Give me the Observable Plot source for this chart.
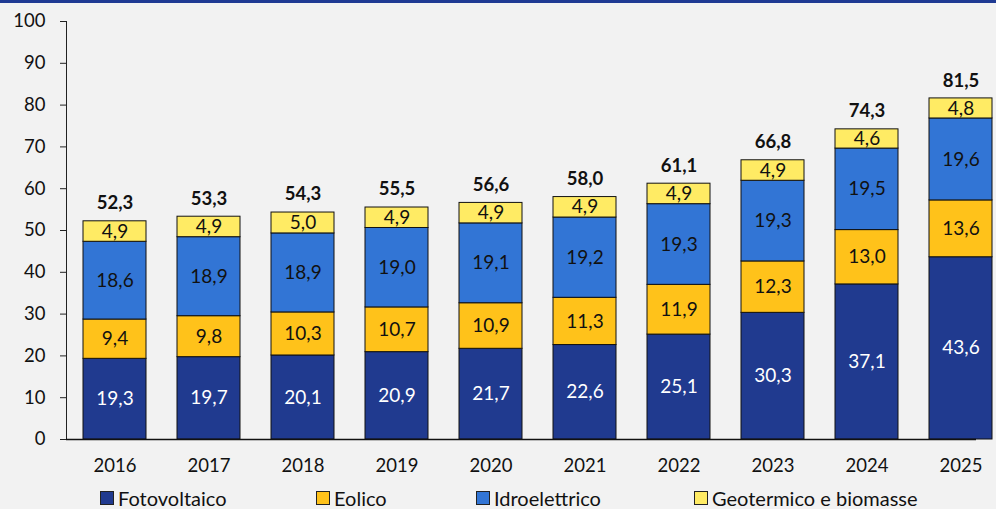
<!DOCTYPE html>
<html>
<head>
<meta charset="utf-8">
<script src="https://cdn.jsdelivr.net/npm/d3@7"></script>
<script src="https://cdn.jsdelivr.net/npm/@observablehq/plot@0.6"></script>
<style>
  html, body { margin: 0; padding: 0; background: #f2f2f2; overflow: hidden; }
  #wrap { position: relative; width: 996px; height: 509px; background: #f2f2f2; font-family: Lato, sans-serif; overflow: hidden; }
  #topbar { position: absolute; left: 0; top: 0; width: 996px; height: 3px; background: #1f3a93; }
  #chart { position: absolute; left: 0; top: 0; }
  .leg { position: absolute; top: 488px; height: 20px; line-height: 20px; display: flex; align-items: center; font-size: 20px; color: #111; white-space: nowrap; }
  .sw { width: 12px; height: 12px; border: 1px solid #222; margin-right: 4px; box-sizing: content-box; }
</style>
</head>
<body>
<div id="wrap">
  <div id="chart"></div>
  <div id="topbar"></div>
  <div id="legend"></div>
</div>
<script>
const years = ["2016","2017","2018","2019","2020","2021","2022","2023","2024","2025"];
const seriesNames = ["Fotovoltaico","Eolico","Idroelettrico","Geotermico e biomasse"];
const fotovoltaico = [19.3,19.7,20.1,20.9,21.7,22.6,25.1,30.3,37.1,43.6];
const eolico = [9.4,9.8,10.3,10.7,10.9,11.3,11.9,12.3,13.0,13.6];
const idroelettrico = [18.6,18.9,18.9,19.0,19.1,19.2,19.3,19.3,19.5,19.6];
const geotermico = [4.9,4.9,5.0,4.9,4.9,4.9,4.9,4.9,4.6,4.8];
const totals = [52.3,53.3,54.3,55.5,56.6,58.0,61.1,66.8,74.3,81.5];
const yTicks = [0,10,20,30,40,50,60,70,80,90,100];
const colors = ["#203a8f","#ffc21a","#3275d5","#ffeb64"];

const seriesValues = [fotovoltaico, eolico, idroelettrico, geotermico];
const rows = [];
seriesNames.forEach((s, i) => years.forEach((yr, j) => rows.push({year: yr, series: s, value: seriesValues[i][j]})));
const totalRows = years.map((yr, j) => ({year: yr, total: totals[j]}));
const fmt = v => v.toFixed(1).replace(".", ",");

const chart = Plot.plot({
  width: 996,
  height: 480,
  marginTop: 21,
  marginBottom: 41,
  marginLeft: 66,
  style: {background: "transparent", fontFamily: "Lato, sans-serif", fontSize: "18.5px", color: "#111"},
  x: {domain: years, range: [66, 1009], paddingInner: 0.33, paddingOuter: 0.165, align: 0.5, label: null},
  y: {domain: [0, 100], label: null},
  color: {domain: seriesNames, range: colors},
  marks: [
    Plot.barY(rows, {x: "year", y: "value", fill: "series", stroke: "#111", strokeWidth: 1, order: seriesNames}),
    Plot.text(rows.filter(d => d.series === "Fotovoltaico"), Plot.stackY({x: "year", y: "value", z: "series", order: seriesNames, text: d => fmt(d.value), fill: "white", fontSize: 19})),
    Plot.text(rows, Plot.stackY({x: "year", y: "value", z: "series", order: seriesNames, text: d => fmt(d.value), fill: d => d.series === "Fotovoltaico" ? "none" : "#111", fontSize: 19})),
    Plot.text(totalRows, {x: "year", y: "total", text: d => fmt(d.total), dy: -18, fontWeight: "bold", fontSize: 18.5, fill: "#111"}),
    Plot.frame({anchor: "left", stroke: "#222"}),
    Plot.ruleY([0], {stroke: "#111", strokeWidth: 1.5}),
    Plot.axisY({ticks: yTicks, tickSize: 6, tickPadding: 15, label: null, tickFormat: d => String(d), stroke: "#222", fill: "#111"}),
    Plot.axisX({tickSize: 0, tickPadding: 19, label: null, fill: "#111"})
  ]
});
document.getElementById("chart").appendChild(chart);

const legendLeft = [100, 316, 476, 694];
const legend = document.getElementById("legend");
seriesNames.forEach((s, i) => {
  const el = document.createElement("div");
  el.className = "leg";
  el.style.left = legendLeft[i] + "px";
  el.innerHTML = `<span class="sw" style="background:${colors[i]}"></span><span>${s}</span>`;
  legend.appendChild(el);
});
</script>
</body>
</html>
